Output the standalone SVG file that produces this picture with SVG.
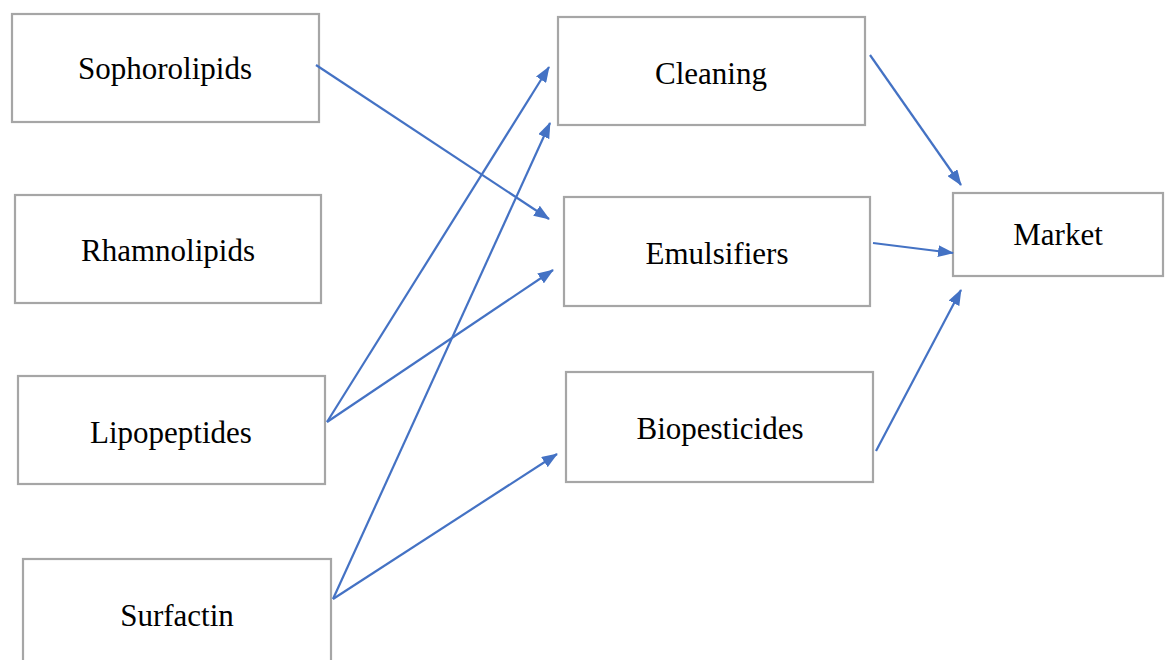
<svg xmlns="http://www.w3.org/2000/svg" width="1168" height="660" viewBox="0 0 1168 660">
<style>
.box{fill:none;stroke:#A6A6A6;stroke-width:2.2}
.lbl{font-family:"Liberation Serif","Times New Roman",serif;font-size:31px;fill:#000;text-anchor:middle}
.edge{stroke:#4472C4;stroke-width:2.2;fill:none}
</style>
<defs>
<marker id="arr" viewBox="0 0 16 12" refX="15" refY="6" markerWidth="16" markerHeight="12" markerUnits="userSpaceOnUse" orient="auto">
<path d="M0,0 L16,6 L0,12 z" fill="#4472C4"/>
</marker>
</defs>
<rect width="1168" height="660" fill="#fff"/>
<g id="sophorolipids"><rect class="box" x="12" y="14" width="307" height="108"/><text class="lbl" x="165" y="79">Sophorolipids</text></g>
<g id="rhamnolipids"><rect class="box" x="15" y="195" width="306" height="108"/><text class="lbl" x="168" y="261">Rhamnolipids</text></g>
<g id="lipopeptides"><rect class="box" x="18" y="376" width="307" height="108"/><text class="lbl" x="171" y="443">Lipopeptides</text></g>
<g id="surfactin"><rect class="box" x="23" y="559" width="308" height="110"/><text class="lbl" x="177" y="626">Surfactin</text></g>
<g id="cleaning"><rect class="box" x="558" y="17" width="307" height="108"/><text class="lbl" x="711" y="84">Cleaning</text></g>
<g id="emulsifiers"><rect class="box" x="564" y="197" width="306" height="109"/><text class="lbl" x="717" y="264">Emulsifiers</text></g>
<g id="biopesticides"><rect class="box" x="566" y="372" width="307" height="110"/><text class="lbl" x="720" y="439">Biopesticides</text></g>
<g id="market"><rect class="box" x="953" y="193" width="210" height="83"/><text class="lbl" x="1058" y="245">Market</text></g>
<g id="connectors">
<line class="edge" x1="316" y1="65" x2="549" y2="219" marker-end="url(#arr)"/>
<line class="edge" x1="327" y1="422" x2="549" y2="67" marker-end="url(#arr)"/>
<line class="edge" x1="327" y1="422" x2="553" y2="270" marker-end="url(#arr)"/>
<line class="edge" x1="333" y1="599" x2="550" y2="123" marker-end="url(#arr)"/>
<line class="edge" x1="333" y1="599" x2="557" y2="454" marker-end="url(#arr)"/>
<line class="edge" x1="870" y1="55" x2="961" y2="185" marker-end="url(#arr)"/>
<line class="edge" x1="873" y1="243" x2="953" y2="253" marker-end="url(#arr)"/>
<line class="edge" x1="876" y1="451" x2="961" y2="290" marker-end="url(#arr)"/>
</g>
</svg>
